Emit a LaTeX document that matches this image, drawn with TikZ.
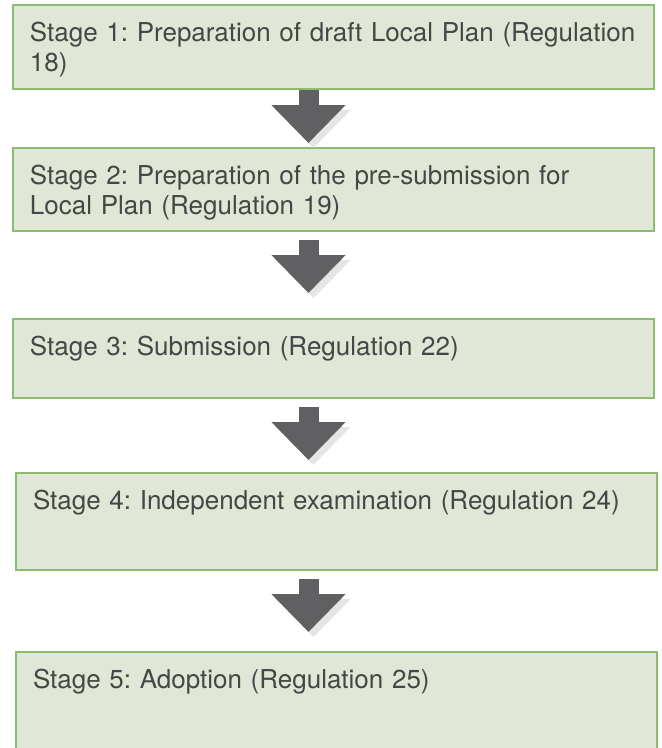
\documentclass[tikz,border=0pt]{standalone}
\usepackage{fontspec}
\setmainfont{TeX Gyre Heros}
\usetikzlibrary{arrows.meta,positioning}

\definecolor{boxfill}{RGB}{224,231,214}
\definecolor{boxline}{RGB}{141,187,114}
\definecolor{stagetext}{RGB}{70,70,70}
\definecolor{arrowgray}{RGB}{96,96,98}

\begin{document}
\begin{tikzpicture}[
        x = 1pt, y = 1pt,
        node distance = 57pt, % gap between stages
        stagebox/.style = {
            draw = boxline,
            fill = boxfill,
            line width = 2pt,
            text = stagetext,
            align = left,
            text width = 607pt,
            inner xsep = 17pt,
            inner ysep = 16pt,
            text height = 20pt,
            text depth = #1, % makes the box taller below the text
            font = \fontsize{26}{30}\selectfont\frenchspacing
        },
        flowarrow/.style = {
            draw = arrowgray,
            line width = 20pt,
            -{Triangle[width=72pt, length=38pt]},
            preaction = {draw = black!10, transform canvas = {shift = {(5pt,-5pt)}}}
        }
        ]

    \useasboundingbox (0,0) rectangle (662,-748);

    \node[stagebox=32pt, anchor=north west] (s1) at (12,-4)
        {Stage 1: Preparation of draft Local Plan (Regulation\\18)};
    \node[stagebox=31pt] (s2) [below=of s1]
        {Stage 2: Preparation of the pre-submission for\\Local Plan (Regulation 19)};
    \node[stagebox=27pt] (s3) [below=86pt of s2]
        {Stage 3: Submission (Regulation 22)};
    \node[stagebox=45pt, xshift=3pt] (s4) [below=73pt of s3]
        {Stage 4: Independent examination (Regulation 24)};
    \node[stagebox=88pt] (s5) [below=80pt of s4]
        {Stage 5: Adoption (Regulation 25)};

    \draw[flowarrow, shorten >=4pt] ([xshift=-25pt]s1.south) -- ([xshift=-25pt]s2.north);
    \draw[flowarrow, shorten <=8pt, shorten >=25pt] ([xshift=-25pt]s2.south) -- ([xshift=-25pt]s3.north);
    \draw[flowarrow, shorten <=8pt, shorten >=12pt] ([xshift=-25pt]s3.south) -- ([xshift=-28pt]s4.north);
    \draw[flowarrow, shorten <=8pt, shorten >=19pt] ([xshift=-28pt]s4.south) -- ([xshift=-28pt]s5.north);

\end{tikzpicture}
\end{document}
